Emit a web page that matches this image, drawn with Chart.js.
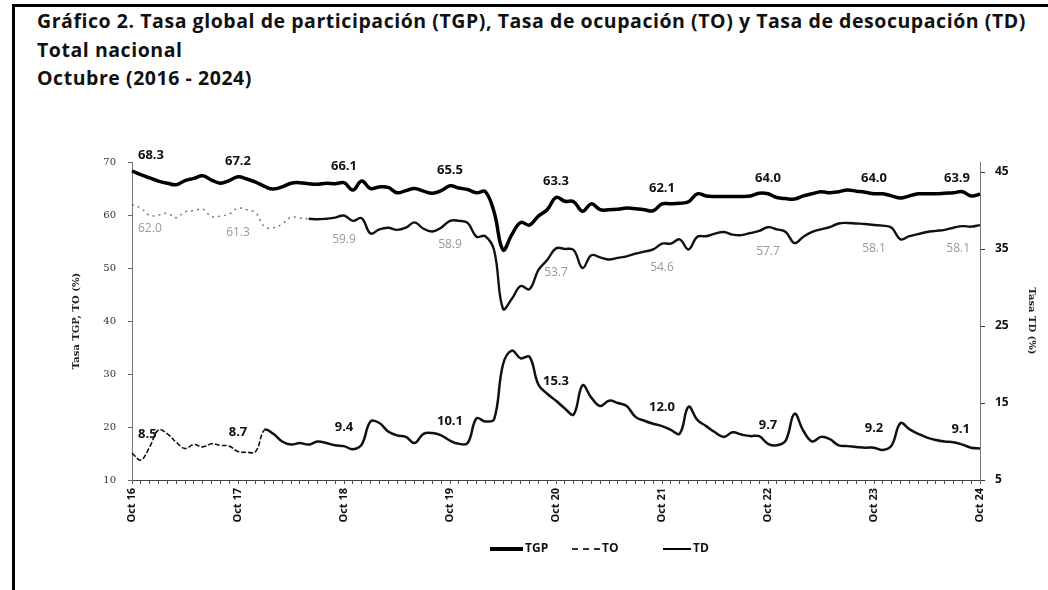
<!DOCTYPE html>
<html>
<head>
<meta charset="utf-8">
<script src="https://cdn.jsdelivr.net/npm/chart.js@4.4.1/dist/chart.umd.min.js"></script>
<style>
  html, body { margin: 0; padding: 0; background: #fff; }
  #wrap { position: relative; width: 1048px; height: 590px; overflow: hidden; }
  #frame { position: absolute; left: 12px; top: 4px; width: 1100px; height: 700px;
           border-left: 3px solid #000; border-top: 3px solid #000; }
  #title { position: absolute; left: 37px; top: 7px; font-family: "Open Sans", sans-serif;
           font-weight: bold; font-size: 19.5px; letter-spacing: 0.55px; line-height: 28.5px; color: #111;
           white-space: nowrap; }
  #chartCanvas { position: absolute; left: 0; top: 0; }
  .leg { position: absolute; top: 540px; font-family: "Open Sans", sans-serif; font-size: 12px;
         font-weight: bold; color: #111; line-height: 16px; }
  .leg i { display: inline-block; vertical-align: middle; margin-right: 2px; }
</style>
</head>
<body>
<div id="wrap">
  <div id="frame"></div>
  <div id="title">Gráfico 2. Tasa global de participación (TGP), Tasa de ocupación (TO) y Tasa de desocupación (TD)<br>Total nacional<br>Octubre (2016 - 2024)</div>
  <canvas id="chartCanvas" width="1048" height="590"></canvas>
  <div class="leg" style="left:490px"><i style="width:33px;border-top:4px solid #000"></i>TGP</div>
  <div class="leg" style="left:572px"><i style="width:28px;border-top:2px dashed #333"></i>TO</div>
  <div class="leg" style="left:663px"><i style="width:28px;border-top:2px solid #000"></i>TD</div>
</div>
<script>
"use strict";

// monthly series, Oct 2016 .. Oct 2024
const monthNames = ['Oct', 'Nov', 'Dic', 'Ene', 'Feb', 'Mar', 'Abr', 'May', 'Jun', 'Jul', 'Ago', 'Sep'];
const firstYear = 16;
const yearTicks = ['Oct 16', 'Oct 17', 'Oct 18', 'Oct 19', 'Oct 20', 'Oct 21', 'Oct 22', 'Oct 23', 'Oct 24'];

const tgp = [
  68.3, 67.6, 67.0, 66.4, 66.0, 65.7, 66.5, 66.9, 67.4, 66.6, 66.0, 66.5,
  67.2, 66.8, 66.2, 65.4, 64.9, 65.3, 66.0, 66.1, 65.9, 65.8, 66.0, 65.9,
  66.1, 64.7, 66.4, 65.0, 65.3, 65.2, 64.2, 64.6, 65.0, 64.5, 64.1, 64.6,
  65.5, 65.1, 64.8, 64.2, 64.4, 60.5, 53.4, 56.3, 58.6, 58.1, 59.8, 61.0,
  63.3, 62.6, 62.5, 60.7, 62.1, 61.0, 61.0, 61.1, 61.3, 61.2, 61.0, 60.8,
  62.1, 62.1, 62.2, 62.5, 64.0, 63.6, 63.5, 63.5, 63.5, 63.5, 63.6, 64.1,
  64.0, 63.3, 63.1, 63.0, 63.6, 64.0, 64.4, 64.2, 64.4, 64.7, 64.5, 64.3,
  64.0, 64.0, 63.6, 63.2, 63.6, 64.0, 64.0, 64.0, 64.1, 64.2, 64.4, 63.6,
  63.9
];

const to = [
  62.0, 61.3, 59.9, 60.0, 60.3, 59.5, 60.6, 60.8, 61.1, 59.7, 59.8, 60.2,
  61.3, 61.0, 60.4, 57.8, 57.6, 58.3, 59.6, 59.4, 59.3, 59.2, 59.3, 59.5,
  59.9, 58.9, 59.4, 56.5, 57.3, 57.6, 57.2, 57.6, 58.6, 57.4, 56.9, 57.6,
  58.9, 58.9, 58.5, 55.9, 56.0, 53.3, 42.3, 44.2, 46.6, 46.0, 49.6, 51.5,
  53.7, 53.6, 53.4, 50.0, 52.4, 52.0, 51.6, 51.9, 52.2, 52.7, 53.1, 53.5,
  54.6, 54.6, 55.4, 53.5, 55.9, 56.0, 56.5, 56.8, 56.3, 56.2, 56.6, 57.0,
  57.7, 57.3, 56.8, 54.7, 55.9, 56.8, 57.3, 57.7, 58.4, 58.5, 58.4, 58.3,
  58.1, 58.0, 57.6, 55.4, 56.0, 56.4, 56.8, 57.0, 57.2, 57.6, 57.9, 57.8,
  58.1
];

const td = [
  8.5, 7.6, 9.3, 11.5, 11.0, 9.9, 9.1, 9.6, 9.3, 9.7, 9.5, 9.4,
  8.7, 8.6, 8.7, 11.5, 11.0, 10.0, 9.6, 9.8, 9.6, 10.0, 9.8, 9.5,
  9.4, 9.0, 9.6, 12.6, 12.4, 11.3, 10.8, 10.6, 9.8, 11.0, 11.1, 10.8,
  10.1, 9.7, 9.8, 13.0, 12.6, 12.9, 20.0, 21.8, 20.8, 21.0, 17.4, 16.2,
  15.3, 14.3, 13.5, 17.3, 15.7, 14.6, 15.3, 15.0, 14.6, 13.2, 12.7, 12.3,
  12.0, 11.5, 11.0, 14.5, 12.8, 12.0, 11.2, 10.6, 11.2, 10.9, 10.7, 10.7,
  9.7, 9.5, 10.1, 13.6, 11.4, 10.0, 10.6, 10.3, 9.5, 9.4, 9.3, 9.2,
  9.2, 8.9, 9.5, 12.4, 11.6, 11.0, 10.5, 10.2, 10.0, 9.9, 9.6, 9.2,
  9.1
];

const leftTicks = [10, 20, 30, 40, 50, 60, 70];
const rightTicks = [5, 15, 25, 35, 45];

// category labels: one per month
const categories = [];
for (let i = 0; i < tgp.length; i++) {
  const yr = firstYear + Math.floor((i + 9) / 12);
  categories.push(monthNames[i % 12] + ' ' + yr);
}

// indexes of the October points that carry a value label
const labelIdx = [];
for (let i = 0; i < tgp.length; i += 12) labelIdx.push(i);

const labelStyle = [
  { font: 'bold 13px "Open Sans"', color: '#111', dy: -16 },
  { font: '12px "Open Sans"', color: '#999', dy: 24 },
  { font: 'bold 13px "Open Sans"', color: '#111', dy: -19 }
];

const pointLabels = {
  id: 'pointLabels',
  afterDatasetsDraw(chart) {
    const ctx = chart.ctx;
    chart.data.datasets.forEach((ds, di) => {
      const meta = chart.getDatasetMeta(di);
      const st = labelStyle[di];
      labelIdx.forEach((i, k) => {
        const p = meta.data[i];
        let x = p.x;
        ctx.save();
        ctx.font = st.font;
        ctx.fillStyle = st.color;
        ctx.textBaseline = 'middle';
        ctx.textAlign = 'center';
        if (k === 0) { ctx.textAlign = 'left'; x += 6; }
        if (k === labelIdx.length - 1) { ctx.textAlign = 'right'; x -= 10; }
        ctx.fillText(ds.data[i].toFixed(1), x, p.y + st.dy);
        ctx.restore();
      });
    });
  }
};

const faded = (n, a, b) => c => (c.p0DataIndex < n ? a : b);

const config = {
  type: 'line',
  data: {
    labels: categories,
    datasets: [
      { label: 'TGP', data: tgp, yAxisID: 'y', borderColor: '#000', borderWidth: 3.5,
        tension: 0.4, pointRadius: 0 },
      { label: 'TO', data: to, yAxisID: 'y', borderColor: '#111', borderWidth: 2.4,
        tension: 0.4, pointRadius: 0,
        segment: { borderDash: faded(20, [2, 4], []), borderColor: faded(20, '#777', '#111'),
                   borderWidth: faded(20, 1.5, 2.4) } },
      { label: 'TD', data: td, yAxisID: 'y1', borderColor: '#111', borderWidth: 2.5,
        tension: 0.4, pointRadius: 0,
        segment: { borderDash: faded(15, [5, 2], []), borderWidth: faded(15, 1.6, 2.5) } }
    ]
  },
  options: {
    responsive: false,
    animation: false,
    devicePixelRatio: 1,
    layout: { padding: { left: 66, right: 6, top: 162, bottom: 50 } },
    plugins: { legend: { display: false }, tooltip: { enabled: false } },
    scales: {
      x: {
        offset: false,
        afterFit: s => { s.height = 60; },
        grid: { drawOnChartArea: false, drawTicks: true, tickLength: 4, color: '#555',
                display: true },
        border: { display: true, color: '#444', dash: [6, 2] },
        ticks: {
          autoSkip: false, maxRotation: 90, minRotation: 90, padding: 4,
          color: '#111', font: { family: 'Open Sans', size: 11, weight: 'bold' },
          callback: (v, i) => (i % 12 === 0 ? yearTicks[i / 12] : '')
        }
      },
      y: {
        position: 'left', min: 10, max: 70,
        afterFit: s => { s.width = 66; },
        afterBuildTicks: s => { s.ticks = leftTicks.map(v => ({ value: v })); },
        grid: { drawOnChartArea: false, tickLength: 4, color: '#666' },
        border: { display: true, color: '#777', dash: [1, 5] },
        ticks: { padding: 12, color: '#333', font: { family: 'DejaVu Serif', size: 10 } },
        title: { display: true, text: 'Tasa TGP, TO (%)', color: '#222',
                 font: { family: 'DejaVu Serif', size: 10, weight: 'bold' }, padding: 4 }
      },
      y1: {
        position: 'right', min: 5, max: 46.3,
        afterFit: s => { s.width = 62; },
        afterBuildTicks: s => { s.ticks = rightTicks.map(v => ({ value: v })); },
        grid: { drawOnChartArea: false, tickLength: 5, color: '#333' },
        border: { display: true, color: '#777', dash: [1, 5] },
        ticks: { padding: 10, color: '#111', font: { family: 'Open Sans', size: 12, weight: 'bold' } },
        title: { display: true, text: 'Tasa TD (%)', color: '#222',
                 font: { family: 'DejaVu Serif', size: 10, weight: 'bold' }, padding: 4 }
      }
    }
  },
  plugins: [pointLabels]
};

new Chart(document.getElementById('chartCanvas'), config);
</script>
</body>
</html>
